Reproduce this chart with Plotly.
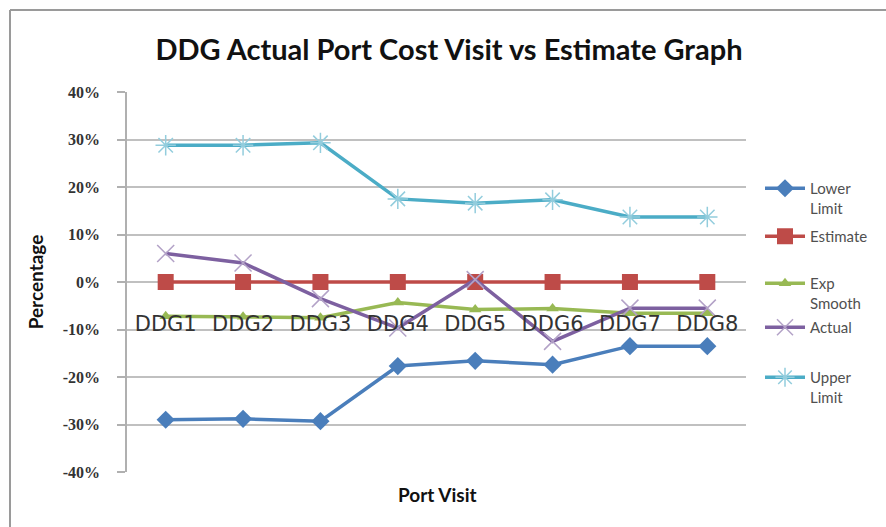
import plotly.graph_objects as go

# Port visits on the category axis
visits = ["DDG1", "DDG2", "DDG3", "DDG4", "DDG5", "DDG6", "DDG7", "DDG8"]

# Percent deviation of each series per visit (fractions)
lower_limit = [-0.290, -0.288, -0.293, -0.177, -0.166, -0.174, -0.135, -0.135]
estimate = [0.0, 0.0, 0.0, 0.0, 0.0, 0.0, 0.0, 0.0]
exp_smooth = [-0.072, -0.073, -0.075, -0.043, -0.058, -0.056, -0.066, -0.066]
actual = [0.060, 0.040, -0.035, -0.097, 0.005, -0.125, -0.055, -0.055]
upper_limit = [0.288, 0.288, 0.293, 0.175, 0.166, 0.173, 0.137, 0.137]

y_ticks = [-0.4, -0.3, -0.2, -0.1, 0.0, 0.1, 0.2, 0.3, 0.4]
y_tick_labels = ["-40%", "-30%", "-20%", "-10%", "0%", "10%", "20%", "30%", "40%"]

series = [
    ("Lower<br>Limit", lower_limit, "#4A7EBB", dict(symbol="diamond", size=14, color="#4A7EBB")),
    ("Estimate", estimate, "#BE4B48", dict(symbol="square", size=16, color="#BE4B48")),
    ("Exp<br>Smooth", exp_smooth, "#98B954", dict(symbol="triangle-up", size=11, color="#98B954")),
    ("Actual", actual, "#7D60A0",
     dict(symbol="x-thin-open", size=17, color="#B3A2C7", line=dict(width=1.5, color="#B3A2C7"))),
    ("Upper<br>Limit", upper_limit, "#4BACC6",
     dict(symbol="asterisk-open", size=17, color="#93CDDD", line=dict(width=1.5, color="#93CDDD"))),
]

# Plot area in pixels (for placing things outside it in paper units)
W, H = 886, 527
ML, MR, MT, MB = 127, 140, 92, 55
pw = W - ML - MR
ph = H - MT - MB

def py(pix):
    return (H - MB - pix) / ph

def px(pix):
    return (pix - ML) / pw

fig = go.Figure()
legend_names = ["legend", "legend2", "legend3", "legend4", "legend5"]
legend_pix_y = [172, 220, 267, 311, 361]

for (name, vals, col, mk), lg in zip(series, legend_names):
    fig.add_trace(go.Scatter(
        x=visits, y=vals, name=name, mode="lines+markers",
        line=dict(color=col, width=3.5), marker=mk, legend=lg,
    ))

leg_font = dict(family="Lato", size=15, color="#505050")
layout_legends = {}
for lg, ypix in zip(legend_names, legend_pix_y):
    layout_legends[lg] = dict(
        x=px(760), y=py(ypix), xanchor="left", yanchor="top",
        font=leg_font, bgcolor="rgba(0,0,0,0)", borderwidth=0,
        valign="top", itemwidth=40, tracegroupgap=0,
    )

frame = dict(color="#9A9A9A", width=2)

fig.update_layout(
    width=W, height=H,
    margin=dict(l=ML, r=MR, t=MT, b=MB),
    paper_bgcolor="white", plot_bgcolor="white",
    showlegend=True,
    title=dict(
        text="<b>DDG Actual Port Cost Visit vs Estimate Graph</b>",
        x=px(449), xanchor="center", xref="paper",
        y=1 - 50 / H, yanchor="middle",
        font=dict(family="Lato", size=29, color="#111111"),
    ),
    xaxis=dict(
        anchor="free", position=py(309),
        showline=False, showgrid=False, ticks="",
        tickfont=dict(family="DejaVu Sans", size=21, color="#333333"),
        range=[-0.5, 7.5], zeroline=False,
    ),
    yaxis=dict(
        range=[-0.4, 0.4], tickvals=y_ticks,
        ticktext=["<b>%s</b>" % t for t in y_tick_labels],
        showgrid=True, gridcolor="#C0C0C0", gridwidth=1.5,
        zeroline=False,
        showline=True, linecolor="#B0B0B0", linewidth=1.5,
        ticks="outside", ticklen=8, tickcolor="#B0B0B0", tickwidth=1.5,
        ticklabelstandoff=14,
        tickfont=dict(family="Liberation Serif", size=16, color="#333333"),
        title=dict(text="<b>Percentage</b>", standoff=14,
                   font=dict(family="Lato", size=19, color="#111111")),
    ),
    annotations=[
        dict(text="<b>Port Visit</b>", xref="paper", yref="paper",
             x=px(437), y=py(494), xanchor="center", yanchor="middle",
             showarrow=False, font=dict(family="Lato", size=19, color="#111111")),
    ],
    shapes=[
        # chart frame: top and left edges
        dict(type="line", xref="paper", yref="paper",
             x0=px(10), x1=px(886), y0=py(10), y1=py(10), line=frame, layer="below"),
        dict(type="line", xref="paper", yref="paper",
             x0=px(10), x1=px(10), y0=py(10), y1=py(527), line=frame, layer="below"),
    ],
    **layout_legends,
)

fig.write_html("out.html")
